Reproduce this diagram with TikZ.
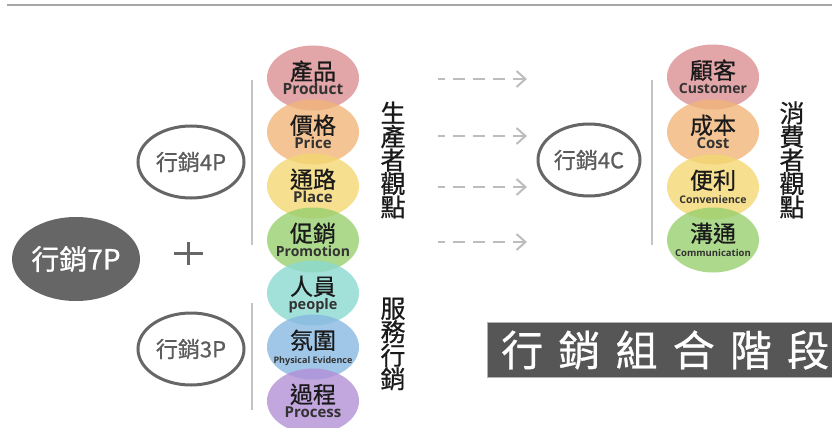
\documentclass[tikz,border=0pt]{standalone}
\usepackage{fontspec}
\setmainfont{Noto Sans CJK TC}
\newfontfamily\zhm{Noto Sans CJK TC}[FakeBold=0.7]
\newfontfamily\en{Open Sans}
\usetikzlibrary{shapes.geometric,arrows.meta}
\definecolor{cPink}{HTML}{DB8E92}
\definecolor{cOrange}{HTML}{F1B579}
\definecolor{cYellow}{HTML}{F4D772}
\definecolor{cGreen}{HTML}{97CF6F}
\definecolor{cTeal}{HTML}{8BD9D1}
\definecolor{cBlue}{HTML}{88B8E2}
\definecolor{cPurple}{HTML}{B390D6}
\definecolor{ringgray}{HTML}{666666}
\definecolor{linegray}{HTML}{C4C4C4}
\definecolor{arrowgray}{HTML}{BDBDBD}
\definecolor{boxgray}{HTML}{565656}
\definecolor{zhtext}{HTML}{1A1A1A}
\definecolor{entext}{HTML}{333333}
\newcommand\myball[7]{%
  \node[mix, fill=#4] (#1) at (#2,#3) {};
  \node[zh, anchor=base] (#1-zh) at ([yshift=-2pt]#1.center) {#5};
  \node[enl, anchor=base, font=\en\bfseries\fontsize{#6}{#6}\selectfont] (#1-en) at ([yshift=-16pt]#1.center) {#7};
}
\begin{document}
\begin{tikzpicture}[x=1pt,y=-1pt,
  mix/.style={ellipse, minimum width=92pt, minimum height=65pt, inner sep=0pt, fill opacity=0.8},
  zh/.style={inner sep=0pt, text=zhtext, font=\zhm\fontsize{23}{23}\selectfont},
  enl/.style={inner sep=0pt, text=entext},
  ring/.style={ellipse, draw=ringgray, line width=3pt, fill=white, minimum width=106pt, minimum height=72pt, inner sep=0pt, text=ringgray!90!black, font=\zhm\fontsize{22}{22}\selectfont},
  vtext/.style={inner sep=0pt, align=center, text=zhtext, font=\zhm\fontsize{25}{23.5}\selectfont},
  sep/.style={draw=linegray, line width=2.5pt},
  dasharrow/.style={draw=arrowgray, line width=2pt, dash pattern=on 12pt off 8pt, dash phase=5pt, -{Straight Barb[length=9pt, width=16pt, line width=2pt]}}
]
\useasboundingbox (0,0) rectangle (832,428);
\draw[draw=gray!70, line width=2pt] (7,5.5) -- (832,5.5);

% 7P
\node[ellipse, fill=ringgray, minimum width=128pt, minimum height=84pt, inner sep=0pt, text=white, font=\zhm\fontsize{28}{28}\selectfont] (p7) at (76,259) {行銷7P};
\draw[draw=ringgray, line width=3pt] (174,253) -- (203,253) (188.5,242) -- (188.5,265);

% rings
\node[ring] (p4) at (191,162) {行銷4P};
\node[ring] (p3) at (191,349) {行銷3P};
\node[ring, minimum width=102pt] (c4) at (589,160) {行銷4C};

% separators
\coordinate (s1a) at (252,80); \coordinate (s1b) at (252,245);
\coordinate (s2a) at (252,303); \coordinate (s2b) at (252,410);
\coordinate (s3a) at (652,80); \coordinate (s3b) at (652,245);
\draw[sep] (s1a) -- (s1b);
\draw[sep] (s2a) -- (s2b);
\draw[sep] (s3a) -- (s3b);

% 7P balls
\myball{prod}{313}{78}{cPink}{產品}{15.5}{Product}
\myball{price}{313}{132}{cOrange}{價格}{15}{Price}
\myball{place}{313}{186}{cYellow}{通路}{15}{Place}
\myball{promo}{313}{240}{cGreen}{促銷}{14}{Promotion}
\myball{people}{313}{293}{cTeal}{人員}{14.5}{people}
\myball{phys}{313}{347}{cBlue}{氛圍}{9}{Physical Evidence}
\myball{proc}{313}{401}{cPurple}{過程}{15}{Process}

% 4C balls
\myball{cust}{713}{77}{cPink}{顧客}{14}{Customer}
\myball{cost}{713}{132}{cOrange}{成本}{15}{Cost}
\myball{conv}{713}{187}{cYellow}{便利}{10.5}{Convenience}
\myball{comm}{713}{240}{cGreen}{溝通}{9.5}{Communication}

% vertical texts
\node[vtext] (prodview) at (393,160) {生\\產\\者\\觀\\點};
\node[vtext] (servmkt) at (393,344) {服\\務\\行\\銷};
\node[vtext] (consview) at (792,160) {消\\費\\者\\觀\\點};

% arrows
\coordinate (a1s) at (438,79);  \coordinate (a1e) at (527,79);
\coordinate (a2s) at (438,136); \coordinate (a2e) at (527,136);
\coordinate (a3s) at (438,187); \coordinate (a3e) at (527,187);
\coordinate (a4s) at (438,242); \coordinate (a4e) at (527,242);
\draw[dasharrow] (a1s) -- (a1e);
\draw[dasharrow] (a2s) -- (a2e);
\draw[dasharrow] (a3s) -- (a3e);
\draw[dasharrow] (a4s) -- (a4e);

% stage box
\node[draw=gray!60, fill=boxgray, minimum width=350pt, minimum height=55pt, inner sep=0pt, anchor=north west] (stage) at (487,322) {};
\node[inner sep=0pt, anchor=west, text=white, font=\zhm\fontsize{42}{42}\selectfont] (stagetxt) at (501,350) {\makebox[328pt][s]{行\hfill 銷\hfill 組\hfill 合\hfill 階\hfill 段}};
\end{tikzpicture}
\end{document}
